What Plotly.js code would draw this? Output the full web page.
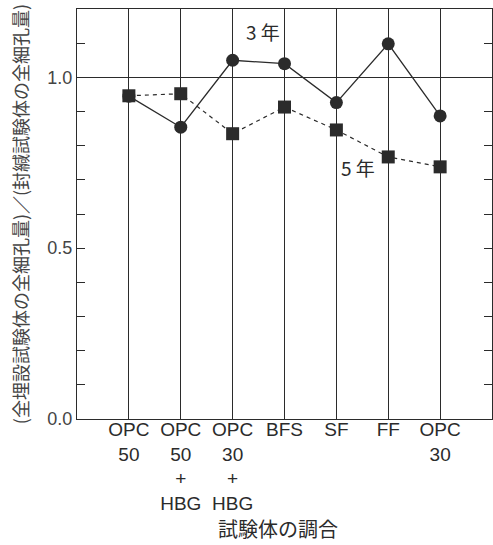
<!DOCTYPE html>
<html><head><meta charset="utf-8">
<script src="https://cdn.plot.ly/plotly-3.0.1.min.js"></script>
<style>body{margin:0;background:#fff}</style>
</head><body>
<div id="chart" style="width:493px;height:545px"></div>
<script>
const categories = ["OPC<br>50", "OPC<br>50<br>+<br>HBG", "OPC<br>30<br>+<br>HBG", "BFS", "SF", "FF", "OPC<br>30"];
const year3 = [0.945, 0.854, 1.050, 1.040, 0.926, 1.098, 0.887];
const year5 = [0.946, 0.952, 0.835, 0.913, 0.846, 0.767, 0.738];
const yTickVals = [0.0, 0.1, 0.2, 0.3, 0.4, 0.5, 0.6, 0.7, 0.8, 0.9, 1.0, 1.1];
const yTickText = ["0.0", "", "", "", "", "0.5", "", "", "", "", "1.0", ""];
const refLine = [1.0];
const labels = {y3: "3 年", y5: "5 年"};
const xTitle = "試験体の調合";
const yTitle = "(全埋設試験体の全細孔量)／(封緘試験体の全細孔量)";

const xpos = categories.map((_, i) => i);
const ink = "#2b2b2b";
const jp = "'Noto Sans CJK JP', 'Liberation Sans', sans-serif";
const lat = "'Liberation Sans', Arial, sans-serif";

const data = [
  {x: xpos, y: year3, type: "scatter", mode: "lines+markers", name: "3年",
   line: {color: ink, width: 1.3}, marker: {symbol: "circle", size: 13, color: ink}},
  {x: xpos, y: year5, type: "scatter", mode: "lines+markers", name: "5年",
   line: {color: ink, width: 1.2, dash: "4px,4px"}, marker: {symbol: "square", size: 13, color: ink}},
  {x: [null], y: [null], yaxis: "y2", showlegend: false, hoverinfo: "skip"}
];

const layout = {
  width: 493, height: 545,
  margin: {l: 77, r: 1, t: 9, b: 126},
  paper_bgcolor: "#fff", plot_bgcolor: "#fff",
  showlegend: false,
  font: {family: lat, color: ink, size: 16},
  xaxis: {
    range: [-1, 7], tickvals: xpos, ticktext: categories,
    showgrid: true, gridcolor: ink, gridwidth: 1.2,
    showline: true, linecolor: ink, linewidth: 1.2, mirror: true,
    ticks: "", zeroline: false, ticklabelstandoff: -7,
    tickfont: {family: lat, size: 19, color: ink}
  },
  yaxis: {
    range: [0, 1.2], tickvals: yTickVals, ticktext: yTickText,
    showgrid: false, zeroline: false,
    showline: true, linecolor: ink, linewidth: 1.2, mirror: "ticks",
    ticks: "inside", ticklen: 8, tickcolor: ink, tickwidth: 1,
    tickfont: {family: lat, size: 18, color: "#444"},
    title: {text: yTitle, font: {family: jp, size: 18, color: "#444"}, standoff: 13}
  },
  yaxis2: {
    range: [0, 1.2], overlaying: "y", tickvals: refLine, showticklabels: false,
    showgrid: true, gridcolor: ink, gridwidth: 1.2, zeroline: false, ticks: ""
  },
  annotations: [
    {x: 2.58, y: 1.135, xref: "x", yref: "y", text: labels.y3, showarrow: false,
     font: {family: jp, size: 19, color: ink}},
    {x: 4.415, y: 0.737, xref: "x", yref: "y", text: labels.y5, showarrow: false,
     font: {family: jp, size: 19, color: ink}},
    {x: 0.484, y: -0.268, xref: "paper", yref: "paper", text: xTitle, showarrow: false,
     xanchor: "center", yanchor: "middle", font: {family: jp, size: 20, color: ink}}
  ]
};

Plotly.newPlot("chart", data, layout, {staticPlot: true, displayModeBar: false});
</script>
</body></html>
